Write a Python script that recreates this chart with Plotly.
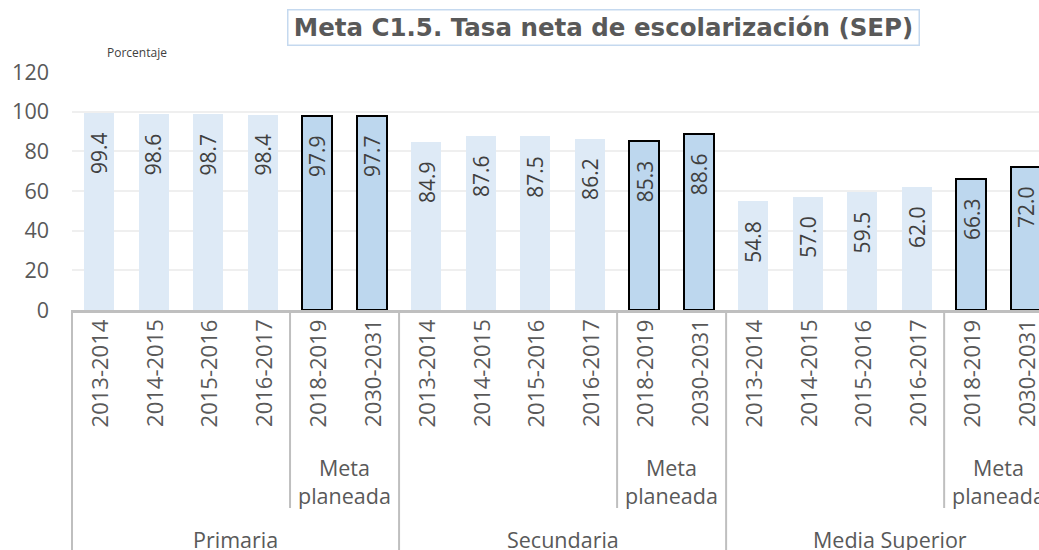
import plotly.graph_objects as go

# ---- data ----
levels = ["Primaria", "Secundaria", "Media Superior"]
years = ["2013-2014", "2014-2015", "2015-2016", "2016-2017", "2018-2019", "2030-2031"]
is_meta = [False, False, False, False, True, True]
primaria = [99.4, 98.6, 98.7, 98.4, 97.9, 97.7]
secundaria = [84.9, 87.6, 87.5, 86.2, 85.3, 88.6]
media_superior = [54.8, 57.0, 59.5, 62.0, 66.3, 72.0]
y_ticks = [0, 20, 40, 60, 80, 100, 120]
title_text = "Meta C1.5. Tasa neta de escolarización (SEP)"
unit_text = "Porcentaje"
meta_text = "Meta<br>planeada"

values = primaria + secundaria + media_superior
n_per = len(years)
xs = list(range(len(values)))
meta_flags = is_meta * len(levels)

FONT = "Open Sans"
TXT = "#595959"
LINE = "#bfbfbf"

fig = go.Figure()
obs_x = [x for x, m in zip(xs, meta_flags) if not m]
obs_y = [v for v, m in zip(values, meta_flags) if not m]
met_x = [x for x, m in zip(xs, meta_flags) if m]
met_y = [v for v, m in zip(values, meta_flags) if m]

fig.add_trace(go.Bar(x=obs_x, y=obs_y, width=0.55, marker=dict(color="#deeaf6", line=dict(width=0)),
                     hoverinfo="y", showlegend=False))
fig.add_trace(go.Bar(x=met_x, y=met_y, width=0.55,
                     marker=dict(color="#bdd7ee", line=dict(color="#000000", width=2)),
                     hoverinfo="y", showlegend=False))

ann = []
# value labels inside bars
for x, v in zip(xs, values):
    ann.append(dict(x=x, y=v, xref="x", yref="y", text=f"{v:.1f}", textangle=-90,
                    showarrow=False, yanchor="top", xanchor="center", yshift=-17,
                    font=dict(family=FONT, size=21, color="#404040")))
# year labels
for x in xs:
    ann.append(dict(x=x, y=-0.03, xref="x", yref="paper", text=years[x % n_per], textangle=-90,
                    showarrow=False, yanchor="top", xanchor="center",
                    font=dict(family=FONT, size=22, color=TXT)))
# meta labels and level labels
for g, lvl in enumerate(levels):
    mx = [x for x in xs if x // n_per == g and meta_flags[x]]
    ann.append(dict(x=sum(mx) / len(mx), y=-0.72, xref="x", yref="paper", text=meta_text,
                    showarrow=False, yanchor="middle", xanchor="center",
                    font=dict(family=FONT, size=21.5, color=TXT)))
    gx = [x for x in xs if x // n_per == g]
    ann.append(dict(x=sum(gx) / len(gx), y=-0.965, xref="x", yref="paper", text=lvl,
                    showarrow=False, yanchor="middle", xanchor="center",
                    font=dict(family=FONT, size=21.5, color=TXT)))
# title box
ann.append(dict(x=0.5496, y=1.187, xref="paper", yref="paper", text=f"<b>{title_text}</b>",
                showarrow=False, xanchor="center", yanchor="middle", width=628, height=32,
                bordercolor="#c5d9ef", borderwidth=1.5, borderpad=1, bgcolor="white",
                font=dict(family="DejaVu Sans", size=24.5, color=TXT)))
ann.append(dict(x=0.067, y=1.08, xref="paper", yref="paper", text=unit_text,
                showarrow=False, xanchor="center", yanchor="middle",
                font=dict(family=FONT, size=12, color="#404040")))

shapes = []
# left edge
shapes.append(dict(type="line", xref="paper", yref="paper", x0=0, x1=0, y0=0, y1=-1.01,
                   line=dict(color=LINE, width=2)))
# group separators
for g in range(1, len(levels)):
    xb = g * n_per - 0.5
    shapes.append(dict(type="line", xref="x", yref="paper", x0=xb, x1=xb, y0=0, y1=-1.01,
                       line=dict(color=LINE, width=2)))
# meta separators
for g in range(len(levels)):
    first_meta = [x for x in xs if x // n_per == g and meta_flags[x]][0]
    xb = first_meta - 0.5
    shapes.append(dict(type="line", xref="x", yref="paper", x0=xb, x1=xb, y0=0, y1=-0.832,
                       line=dict(color=LINE, width=2)))

fig.update_layout(
    width=1039, height=550,
    margin=dict(l=72, r=0, t=72, b=240),
    plot_bgcolor="white", paper_bgcolor="white",
    bargap=0, barmode="overlay", hovermode=False,
    annotations=ann, shapes=shapes,
    font=dict(family=FONT, color=TXT),
    xaxis=dict(range=[-0.5, 17.24], showticklabels=False, ticks="", showgrid=False,
               zeroline=False, showline=True, linecolor=LINE, linewidth=2.5),
    yaxis=dict(range=[0, 120], tickvals=y_ticks, showgrid=True, gridcolor="#efefef", gridwidth=1.5,
               zeroline=False, showline=False, ticks="", ticklabelstandoff=22,
               tickfont=dict(family=FONT, size=21.5, color=TXT)),
)

fig.write_html(
    "out.html",
    config={"displayModeBar": False},
    post_script="document.body.style.margin='0';document.documentElement.style.overflow='hidden';",
)
